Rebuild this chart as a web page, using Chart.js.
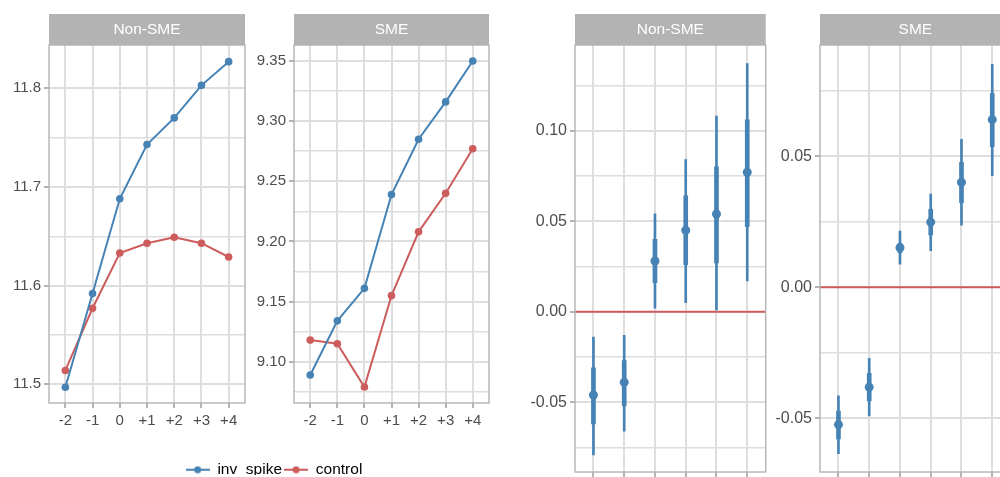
<!DOCTYPE html>
<html lang="en">
<head>
<meta charset="UTF-8" />
<title>inv_spike vs control</title>
<script src="https://cdn.jsdelivr.net/npm/chart.js"></script>
<style>
  html, body { margin: 0; padding: 0; width: 1000px; height: 477px; overflow: hidden; background: #fff; position: relative; }
  canvas { position: absolute; top: 0; }
</style>
</head>
<body>
<canvas id="levelNonSme" width="260" height="477" style="left:0px"></canvas>
<canvas id="levelSme" width="260" height="477" style="left:250px"></canvas>
<canvas id="coefNonSme" width="270" height="520" style="left:510px"></canvas>
<canvas id="coefSme" width="270" height="520" style="left:770px"></canvas>
<canvas id="legend" width="200" height="30" style="left:174px; top:460px"></canvas>

<script>
// ---- data ----
const periods = ["-2", "-1", "0", "+1", "+2", "+3", "+4"];
const seriesNames = ["inv_spike", "control"];

const nonSmeSpike = [11.497, 11.592, 11.688, 11.743, 11.770, 11.803, 11.827];
const nonSmeControl = [11.514, 11.577, 11.633, 11.643, 11.649, 11.643, 11.629];
const smeSpike = [9.089, 9.134, 9.161, 9.239, 9.285, 9.316, 9.350];
const smeControl = [9.118, 9.115, 9.079, 9.155, 9.208, 9.240, 9.277];

// coefficient panels (x labels fall below the visible area)
const coefPeriods = ["-2", "-1", "+1", "+2", "+3", "+4"];
const nonSmeEst = [-0.046, -0.039, 0.028, 0.045, 0.054, 0.077];
const nonSmeInner = [[-0.062, -0.031], [-0.052, -0.027], [0.016, 0.040], [0.026, 0.064], [0.027, 0.080], [0.047, 0.106]];
const nonSmeOuter = [[-0.079, -0.014], [-0.066, -0.013], [0.002, 0.054], [0.005, 0.084], [0.001, 0.108], [0.017, 0.137]];
const smeEst = [-0.0524, -0.0381, 0.0151, 0.0249, 0.0401, 0.0640];
const smeInner = [[-0.0579, -0.0472], [-0.0434, -0.0328], [0.0132, 0.0168], [0.0200, 0.0298], [0.0323, 0.0477], [0.0537, 0.0740]];
const smeOuter = [[-0.0635, -0.0414], [-0.0491, -0.0271], [0.0088, 0.0215], [0.0140, 0.0356], [0.0237, 0.0565], [0.0426, 0.0851]];

// y tick labels and grid lines
const nonSmeLevelTicks = [11.5, 11.6, 11.7, 11.8];
const nonSmeLevelGrid = [11.5, 11.55, 11.6, 11.65, 11.7, 11.75, 11.8];
const smeLevelTicks = [9.10, 9.15, 9.20, 9.25, 9.30, 9.35];
const smeLevelGrid = [9.075, 9.10, 9.125, 9.15, 9.175, 9.20, 9.225, 9.25, 9.275, 9.30, 9.325, 9.35];
const nonSmeCoefTicks = [-0.05, 0, 0.05, 0.10];
const nonSmeCoefGrid = [-0.075, -0.05, -0.025, 0, 0.025, 0.05, 0.075, 0.10, 0.125];
const smeCoefTicks = [-0.05, 0, 0.05];
const smeCoefGrid = [-0.05, -0.025, 0, 0.025, 0.05, 0.075];
const zeroRef = 0;

// ---- style ----
const BLUE = "#4682B4", RED = "#CD5C5C";
const GRID = "#DEDEDE", FRAME = "#B3B3B3", TEXT = "#4D4D4D";
Chart.defaults.font.family = "'Liberation Sans', Arial, sans-serif";
Chart.defaults.animation = false;

const near = (list, v) => list.some(t => Math.abs(t - v) < 1e-9);

// grey strip on top of the panel + panel frame
const stripPlugin = {
  id: "strip",
  beforeDraw(chart, args, opts) {
    const { ctx, chartArea: a } = chart;
    ctx.save();
    ctx.fillStyle = FRAME;
    ctx.fillRect(a.left, a.top - 31, a.right - a.left, 31);
    ctx.fillStyle = "#fff";
    ctx.font = "15.5px 'Liberation Sans', Arial, sans-serif";
    ctx.textAlign = "center";
    ctx.textBaseline = "middle";
    ctx.fillText(opts.text, (a.left + a.right) / 2, a.top - 15);
    ctx.restore();
  },
  afterDraw(chart) {
    const { ctx, chartArea: a } = chart;
    ctx.save();
    ctx.strokeStyle = FRAME;
    ctx.lineWidth = 1.4;
    ctx.strokeRect(a.left, a.top, a.right - a.left, a.bottom - a.top);
    ctx.restore();
  }
};

// red reference line at zero
const zeroLinePlugin = {
  id: "zeroLine",
  beforeDatasetsDraw(chart) {
    const { ctx, chartArea: a } = chart;
    const y = chart.scales.y.getPixelForValue(zeroRef);
    ctx.save();
    ctx.strokeStyle = RED;
    ctx.lineWidth = 2;
    ctx.beginPath();
    ctx.moveTo(a.left, y);
    ctx.lineTo(a.right, y);
    ctx.stroke();
    ctx.restore();
  }
};

function yAxis(min, max, grid, ticks, decimals, width, size) {
  return {
    type: "linear", min, max, bounds: "data",
    afterBuildTicks: s => { s.ticks = grid.map(v => ({ value: v })); },
    afterFit: s => { s.width = width; },
    border: { display: false },
    grid: {
      color: GRID,
      lineWidth: c => (c.tick && near(ticks, c.tick.value)) ? 2 : 1.5,
      tickColor: c => (c.tick && near(ticks, c.tick.value)) ? FRAME : "rgba(0,0,0,0)",
      tickLength: 5
    },
    ticks: {
      color: TEXT, font: { size }, padding: 3, autoSkip: false,
      callback: v => near(ticks, v) ? v.toFixed(decimals) : ""
    }
  };
}

function xAxis(labels, height, size) {
  return {
    type: "linear", min: -0.6, max: labels.length - 0.4, bounds: "data", offset: false,
    afterBuildTicks: s => { s.ticks = labels.map((_, i) => ({ value: i })); },
    afterFit: s => { s.height = height; },
    border: { display: false },
    grid: { offset: false, color: GRID, lineWidth: 2, tickColor: FRAME, tickLength: 5 },
    ticks: {
      color: TEXT, font: { size }, padding: 4, autoSkip: false, maxRotation: 0,
      callback: v => labels[v]
    }
  };
}

function lineSet(label, values, color) {
  return {
    label,
    data: values.map((v, i) => ({ x: i, y: v })),
    borderColor: color, backgroundColor: color,
    borderWidth: 2, pointRadius: 3.8, pointBorderWidth: 0, tension: 0
  };
}

function levelChart(id, title, spike, control, yMin, yMax, grid, ticks, decimals, yWidth, padRight) {
  return new Chart(document.getElementById(id), {
    type: "line",
    data: { datasets: [lineSet(seriesNames[0], spike, BLUE), lineSet(seriesNames[1], control, RED)] },
    options: {
      responsive: false, devicePixelRatio: 1,
      layout: { padding: { top: 45, right: padRight, bottom: 0, left: 0 } },
      scales: {
        x: xAxis(periods, 74, 15),
        y: yAxis(yMin, yMax, grid, ticks, decimals, yWidth, 15)
      },
      plugins: { legend: { display: false }, tooltip: { enabled: false }, strip: { text: title } }
    },
    plugins: [stripPlugin]
  });
}

function coefChart(id, title, est, inner, outer, yMin, yMax, grid, ticks, yWidth, padRight) {
  return new Chart(document.getElementById(id), {
    type: "bar",
    data: {
      datasets: [
        {
          type: "line", order: 0, showLine: false,
          data: est.map((v, i) => ({ x: i, y: v })),
          backgroundColor: BLUE, pointRadius: 4.5, pointBorderWidth: 0
        },
        {
          order: 1, grouped: false, barThickness: 4,
          data: inner.map((r, i) => ({ x: i, y: r })),
          backgroundColor: BLUE
        },
        {
          order: 2, grouped: false, barThickness: 2,
          data: outer.map((r, i) => ({ x: i, y: r })),
          backgroundColor: BLUE
        }
      ]
    },
    options: {
      responsive: false, devicePixelRatio: 1,
      layout: { padding: { top: 45, right: padRight, bottom: 0, left: 0 } },
      scales: {
        x: xAxis(coefPeriods, 48, 16),
        y: yAxis(yMin, yMax, grid, ticks, 2, yWidth, 16)
      },
      plugins: { legend: { display: false }, tooltip: { enabled: false }, strip: { text: title } }
    },
    plugins: [stripPlugin, zeroLinePlugin]
  });
}

levelChart("levelNonSme", "Non-SME", nonSmeSpike, nonSmeControl, 11.481, 11.8439, nonSmeLevelGrid, nonSmeLevelTicks, 1, 49, 15);
levelChart("levelSme", "SME", smeSpike, smeControl, 9.0657, 9.3633, smeLevelGrid, smeLevelTicks, 2, 44, 21);
coefChart("coefNonSme", "Non-SME", nonSmeEst, nonSmeInner, nonSmeOuter, -0.0885, 0.1473, nonSmeCoefGrid, nonSmeCoefTicks, 65, 14.3);
coefChart("coefSme", "SME", smeEst, smeInner, smeOuter, -0.0705, 0.0925, smeCoefGrid, smeCoefTicks, 50, 29.3);

// legend: line with a dot, as in the original
function marker(color) {
  const c = document.createElement("canvas");
  c.width = 24; c.height = 8;
  const g = c.getContext("2d");
  g.strokeStyle = color; g.lineWidth = 2;
  g.beginPath(); g.moveTo(0, 4); g.lineTo(24, 4); g.stroke();
  g.fillStyle = color;
  g.beginPath(); g.arc(12, 4, 3.5, 0, Math.PI * 2); g.fill();
  return c;
}
const legendColors = [BLUE, RED];

new Chart(document.getElementById("legend"), {
  type: "line",
  data: { datasets: seriesNames.map((name, i) => ({ label: name, data: [], borderColor: legendColors[i] })) },
  options: {
    responsive: false, devicePixelRatio: 1,
    layout: { padding: 0 },
    scales: { x: { display: false }, y: { display: false } },
    plugins: {
      tooltip: { enabled: false },
      legend: {
        position: "top",
        labels: {
          usePointStyle: true, pointStyleWidth: 24, padding: 2, color: "#1a1a1a",
          font: { size: 15.5 },
          generateLabels: chart => chart.data.datasets.map((ds, i) => ({
            text: ds.label, pointStyle: marker(legendColors[i]),
            fillStyle: legendColors[i], strokeStyle: legendColors[i],
            lineWidth: 0, hidden: false, datasetIndex: i
          }))
        }
      }
    }
  }
});
</script>
</body>
</html>
